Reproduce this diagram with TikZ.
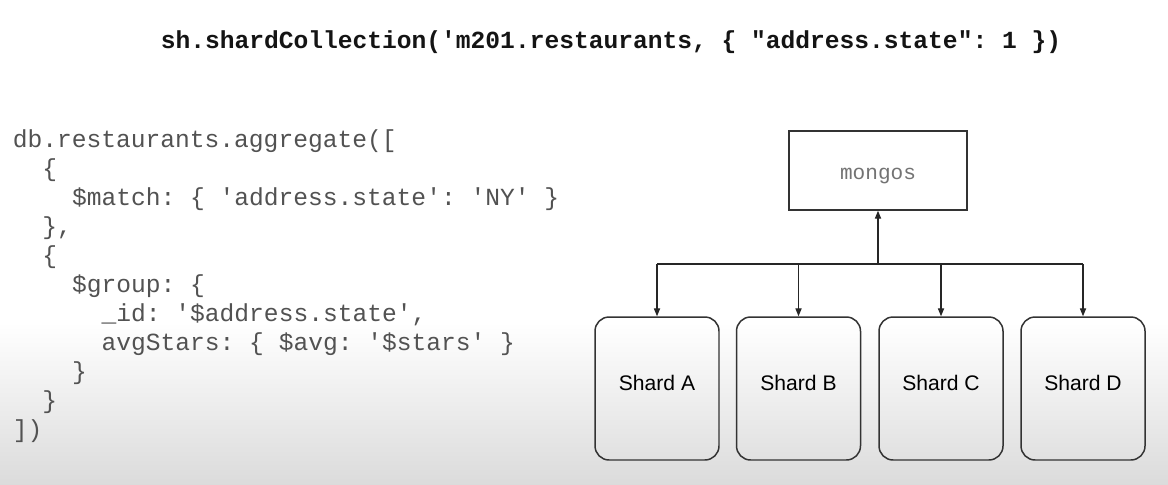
\documentclass[tikz,border=0pt]{standalone}
\usepackage{fontspec}
\setmainfont{Liberation Sans}
\setmonofont{Liberation Mono}
\usetikzlibrary{arrows.meta,positioning}

\begin{document}
\begin{tikzpicture}[x=0.02cm, y=-0.02cm, >={Triangle[length=4.5pt,width=3.5pt]},
  codeline/.style={anchor=base west, inner sep=0pt, text=black!68,
    font=\ttfamily\fontsize{14}{17}\selectfont},
  title/.style={inner sep=0pt, text=black!92, font=\ttfamily\bfseries\fontsize{14}{17}\selectfont},
  shardbox/.style={draw=black!80, line width=0.85pt, rounded corners=8pt,
    minimum width=2.48cm, minimum height=2.86cm, text depth=0.22cm,
    font=\fontsize{12}{14}\selectfont},
  link/.style={draw=black!85, line width=0.7pt}]

% Fond
\useasboundingbox (0,0) rectangle (1168,484);
\fill[white] (0,0) rectangle (1168,322);
\shade[top color=white, bottom color=black!14] (0,322) rectangle (1168,484);

% Commande de sharding
\node[title] (cmd) at (611,42) {sh.shardCollection('m201.restaurants, \{ "address.state": 1 \})};

% Pipeline d'agregation
\node[codeline] (l1) at (12.5,147) {db.restaurants.aggregate([};
\node[codeline] (l2) at (42,176) {\{};
\node[codeline] (l3) at (71.7,205) {\$match: \{ 'address.state': 'NY' \}};
\node[codeline] (l4) at (42,234) {\},};
\node[codeline] (l5) at (42,263) {\{};
\node[codeline] (l6) at (71.7,292) {\$group: \{};
\node[codeline] (l7) at (101.3,321) {\_id: '\$address.state',};
\node[codeline] (l8) at (101.3,350) {avgStars: \{ \$avg: '\$stars' \}};
\node[codeline] (l9) at (71.7,379) {\}};
\node[codeline] (l10) at (42,408) {\}};
\node[codeline] (l11) at (12.5,437) {])};

% Routeur
\node[draw=black!80, line width=0.85pt, minimum width=3.56cm, minimum height=1.58cm,
  text height=13pt, text=black!55, font=\ttfamily\fontsize{12}{14}\selectfont] (mongos) at (878,170.5) {mongos};

% Shards
\node[shardbox] (shA) at (657,388.5) {Shard A};
\node[shardbox] (shB) at (798.5,388.5) {Shard B};
\node[shardbox] (shC) at (941,388.5) {Shard C};
\node[shardbox] (shD) at (1083,388.5) {Shard D};

% Connexions
\coordinate (bus) at (mongos.south |- 0,264);
\draw[link] (shA.north |- bus) -- (shD.north |- bus);
\draw[link, ->] (bus) -- (mongos.south);
\foreach \s in {A,B,C,D}
  \draw[link, ->] (sh\s.north |- bus) -- (sh\s.north);

\end{tikzpicture}
\end{document}
